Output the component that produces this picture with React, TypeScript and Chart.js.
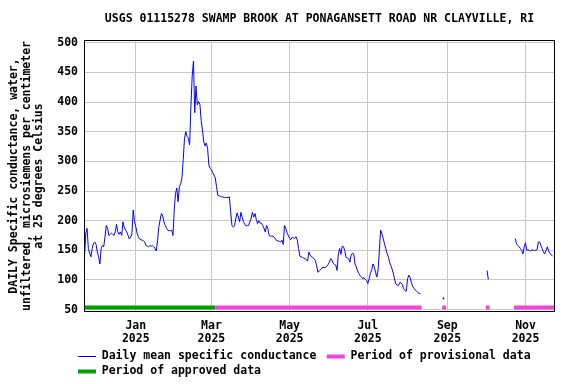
import React, { useEffect, useRef } from 'react';
import { Chart, registerables } from 'chart.js';

Chart.register(...registerables);

const FONT_FAMILY = '"DejaVu Sans Mono", "Liberation Mono", monospace';

const TITLE = 'USGS 01115278 SWAMP BROOK AT PONAGANSETT ROAD NR CLAYVILLE, RI';
const Y_TITLE = [
  'DAILY Specific conductance, water,',
  'unfiltered, microsiemens per centimeter',
  'at 25 degrees Celsius',
];
const SERIES_LABEL = 'Daily mean specific conductance';
const PROVISIONAL_LABEL = 'Period of provisional data';
const APPROVED_LABEL = 'Period of approved data';

// x values are days counted from 2025-01-01
const X_MIN_DAY = -40.4;
const X_MAX_DAY = 327;
const monthTickDays = [0, 59, 120, 181, 243, 304];
const monthTickLabels = [
  ['Jan', '2025'],
  ['Mar', '2025'],
  ['May', '2025'],
  ['Jul', '2025'],
  ['Sep', '2025'],
  ['Nov', '2025'],
];

const Y_MIN = 46;
const Y_MAX = 504.6;
const yTickValues = [50, 100, 150, 200, 250, 300, 350, 400, 450, 500];

// start day of each run of daily values
const segmentStartDays = [-40, 240, 274, 296];

// 2024-11-22 .. 2025-08-11
const segment1Values = [
  139, 179, 187, 153, 145, 139, 153, 162, 164, 160,
  147, 139, 127, 153, 158, 156, 173, 192, 187, 175,
  177, 179, 177, 175, 181, 194, 181, 177, 181, 175,
  198, 189, 184, 181, 175, 169, 172, 178, 218, 198,
  190, 179, 173, 169, 168, 167, 166, 164, 158, 157,
  156, 158, 157, 158, 156, 153, 149, 167, 190, 201,
  212, 208, 198, 192, 187, 184, 183, 183, 184, 175,
  218, 246, 255, 232, 257, 262, 272, 303, 339, 350,
  342, 339, 328, 393, 444, 469, 382, 427, 395, 401,
  396, 369, 353, 333, 326, 331, 322, 294, 288, 286,
  281, 277, 272, 257, 243, 242, 241, 240, 240, 239,
  239, 239, 239, 240, 215, 192, 189, 191, 203, 213,
  206, 198, 214, 206, 198, 194, 191, 192, 192, 198,
  204, 214, 206, 212, 202, 195, 200, 196, 196, 192,
  187, 181, 192, 187, 175, 174, 174, 174, 172, 169,
  166, 166, 165, 164, 167, 160, 192, 187, 179, 175,
  170, 168, 172, 171, 170, 173, 167, 153, 140, 139,
  138, 137, 136, 134, 132, 147, 142, 139, 138, 136,
  133, 125, 113, 115, 117, 120, 121, 121, 121, 123,
  126, 130, 136, 134, 128, 126, 125, 116, 144, 153,
  143, 157, 156, 150, 138, 137, 136, 130, 142, 145,
  144, 127, 122, 115, 111, 107, 105, 102, 104, 101,
  99, 94, 102, 111, 117, 127, 122, 113, 105, 117,
  150, 184, 178, 170, 161, 153, 145, 139, 130, 124,
  118, 110, 100, 93, 91, 91, 96, 95, 92, 85,
  82, 81, 102, 108, 104, 96, 89, 86, 83, 81,
  79, 77, 77,
];
const segment2Values = [69];
const segment3Values = [116, 101];
const segment4Values = [
  170, 161, 158, 156, 153, 150, 144, 156, 163, 150,
  151, 150, 149, 151, 150, 150, 150, 151, 164, 164,
  158, 153, 147, 144, 150, 156, 149, 145, 143, 140,
];
const segmentValues = [segment1Values, segment2Values, segment3Values, segment4Values];

// periods as [startDay, endDay]
const approvedPeriods = [[-41, 62]];
const provisionalPeriods = [
  [62, 223],
  [239, 242],
  [273, 276],
  [295, 328],
];

const PERIOD_BAR_LEVEL = 53.5;

type Pt = { x: number; y: number | null };

function buildSeries(): Pt[] {
  const pts: Pt[] = [];
  segmentValues.forEach((vals, s) => {
    const start = segmentStartDays[s];
    if (s > 0) pts.push({ x: start - 1, y: null });
    vals.forEach((v, i) => pts.push({ x: start + i, y: v }));
  });
  return pts;
}

function buildPeriods(periods: number[][]): Pt[] {
  const pts: Pt[] = [];
  periods.forEach((p, i) => {
    if (i > 0) pts.push({ x: (periods[i - 1][1] + p[0]) / 2, y: null });
    pts.push({ x: p[0], y: PERIOD_BAR_LEVEL });
    pts.push({ x: p[1], y: PERIOD_BAR_LEVEL });
  });
  return pts;
}

const font = (extra: any = {}) => ({ family: FONT_FAMILY, size: 11.5, weight: 'bold' as const, ...extra });

const LEGEND_PADDING = 3.5;

const usgsPlugin = {
  id: 'usgsLayout',
  afterLayout(chart: any) {
    const lg = chart.legend;
    if (lg) {
      const h = lg.height;
      lg.left = 78 - LEGEND_PADDING;
      lg.right = 576;
      lg.top = 347.25;
      lg.bottom = lg.top + h;
    }
  },
  afterDatasetsDraw(chart: any) {
    const { ctx, chartArea } = chart;
    ctx.save();
    ctx.strokeStyle = '#000';
    ctx.lineWidth = 1;
    ctx.strokeRect(
      Math.round(chartArea.left) + 0.5,
      Math.round(chartArea.top) + 0.5,
      Math.round(chartArea.right - chartArea.left) - 1,
      Math.round(chartArea.bottom - chartArea.top) - 1
    );
    ctx.restore();
  },
};

export default function App() {
  const canvasRef = useRef<HTMLCanvasElement | null>(null);

  useEffect(() => {
    if (!canvasRef.current) return;
    Chart.defaults.font.family = FONT_FAMILY;
    const series = buildSeries();
    const isolated = (i: number) =>
      series[i] && series[i].y != null &&
      (i === 0 || series[i - 1].y == null) &&
      (i === series.length - 1 || series[i + 1].y == null);

    const chart = new Chart(canvasRef.current, {
      type: 'line',
      data: {
        datasets: [
          {
            label: SERIES_LABEL + ' ',
            data: series as any,
            borderColor: '#0000ff',
            backgroundColor: '#0000ff',
            borderWidth: 1,
            pointRadius: (c: any) => (isolated(c.dataIndex) ? 0.6 : 0),
            pointHoverRadius: 0,
            pointBorderWidth: 1,
            pointBorderColor: '#0000ff',
            pointBackgroundColor: '#0000ff',
            spanGaps: false,
            tension: 0,
          },
          {
            label: PROVISIONAL_LABEL,
            data: buildPeriods(provisionalPeriods) as any,
            borderColor: '#f542dc',
            backgroundColor: '#f542dc',
            borderWidth: 4,
            pointBorderWidth: 4,
            pointRadius: 0,
            spanGaps: false,
            borderCapStyle: 'butt',
          },
          {
            label: APPROVED_LABEL,
            data: buildPeriods(approvedPeriods) as any,
            borderColor: '#00a000',
            backgroundColor: '#00a000',
            borderWidth: 4,
            pointBorderWidth: 4,
            pointRadius: 0,
            spanGaps: false,
            borderCapStyle: 'butt',
          },
        ],
      },
      options: {
        responsive: false,
        animation: false,
        events: [],
        layout: { padding: { left: 0, right: 21, top: 0, bottom: 0 } },
        plugins: {
          title: {
            display: true,
            text: TITLE,
            fullSize: false,
            color: '#000',
            font: font({ lineHeight: 1.2 }),
            padding: { top: 12.6, bottom: 13.6 },
          },
          legend: {
            display: true,
            position: 'bottom',
            align: 'start',
            labels: {
              usePointStyle: true,
              pointStyle: 'line',
              pointStyleWidth: 18,
              boxHeight: 11.5,
              padding: LEGEND_PADDING,
              color: '#000',
              font: font(),
            },
          },
          tooltip: { enabled: false },
        },
        scales: {
          x: {
            type: 'linear',
            min: X_MIN_DAY,
            max: X_MAX_DAY,
            afterBuildTicks: (s: any) => {
              s.ticks = monthTickDays.map((v) => ({ value: v }));
            },
            afterFit: (s: any) => {
              s.height = 32;
            },
            ticks: {
              autoSkip: false,
              maxRotation: 0,
              minRotation: 0,
              padding: 7,
              color: '#000',
              font: font({ lineHeight: 1.18 }),
              callback: (v: any) => {
                const i = monthTickDays.indexOf(Number(v));
                return i >= 0 ? monthTickLabels[i] : '';
              },
            },
            grid: { color: '#c8c8c8', lineWidth: 1, drawTicks: false },
            border: { display: false },
          },
          y: {
            type: 'linear',
            min: Y_MIN,
            max: Y_MAX,
            afterBuildTicks: (s: any) => {
              s.ticks = yTickValues.map((v) => ({ value: v }));
            },
            afterFit: (s: any) => {
              s.width = 84;
            },
            ticks: {
              padding: 6,
              color: '#000',
              font: font(),
            },
            title: {
              display: true,
              text: Y_TITLE,
              color: '#000',
              font: font({ lineHeight: 1.09 }),
              padding: { top: 7.75, bottom: 0 },
            },
            grid: { color: '#c8c8c8', lineWidth: 1, drawTicks: false },
            border: { display: false },
          },
        },
      } as any,
      plugins: [usgsPlugin],
    });
    return () => chart.destroy();
  }, []);

  return (
    <div style={{ position: 'absolute', left: 0, top: 0, width: 576, height: 384, background: '#fff' }}>
      <canvas ref={canvasRef} width={576} height={384} style={{ display: 'block' }} />
    </div>
  );
}
